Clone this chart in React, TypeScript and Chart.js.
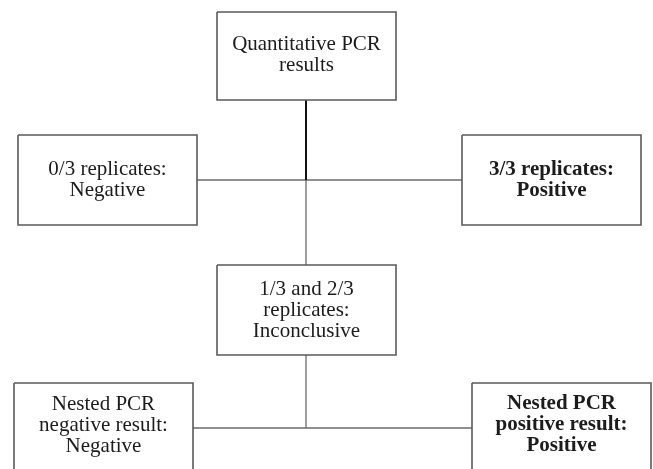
import React, { useEffect, useRef } from "react";
import { Chart, registerables } from "chart.js";

Chart.register(...registerables);

// Flowchart content (in a 653 x 469 coordinate space, y pointing down)
const boxLines: string[][] = [
  ["Quantitative PCR", "results"],
  ["0/3 replicates:", "Negative"],
  ["3/3 replicates:", "Positive"],
  ["1/3 and 2/3", "replicates:", "Inconclusive"],
  ["Nested PCR", "negative result:", "Negative"],
  ["Nested PCR", "positive result:", "Positive"],
];
const boxLeft = [217, 18, 462, 217, 14, 472];
const boxRight = [396, 197, 641, 396, 193, 651];
const boxTop = [12, 135, 135, 265, 383, 383];
const boxBottom = [100, 225, 225, 355, 480, 480];
const boxTextCenterY = [55, 180, 180, 310, 425, 425];
const boxBold = [false, false, true, false, false, true];

// connectors: [x1, y1, x2, y2]
const connectorX1 = [306, 197, 306, 306, 193];
const connectorY1 = [100, 180, 180, 355, 428];
const connectorX2 = [306, 462, 306, 306, 472];
const connectorY2 = [180, 180, 265, 428, 428];
const connectorStrong = [true, false, false, false, false];

const textPlugin = {
  id: "boxText",
  afterDatasetsDraw(chart: any) {
    const { ctx, scales } = chart;
    const xs = scales.x;
    const ys = scales.y;
    ctx.save();
    ctx.fillStyle = "#1c1c1c";
    ctx.textAlign = "center";
    ctx.textBaseline = "middle";
    const lh = 21;
    boxLines.forEach((lines, i) => {
      ctx.font = `${boxBold[i] ? "bold " : ""}21px "Liberation Serif", "Times New Roman", serif`;
      const cx = xs.getPixelForValue((boxLeft[i] + boxRight[i]) / 2);
      const cy = ys.getPixelForValue(boxTextCenterY[i]);
      const start = cy - ((lines.length - 1) * lh) / 2;
      lines.forEach((t, j) => ctx.fillText(t, cx, start + j * lh));
    });
    ctx.restore();
  },
};

export default function App() {
  const ref = useRef<HTMLCanvasElement>(null);
  useEffect(() => {
    document.body.style.margin = "0";
    const datasets: any[] = [];
    boxLines.forEach((_, i) => {
      datasets.push({
        data: [
          { x: boxLeft[i], y: boxTop[i] },
          { x: boxRight[i], y: boxTop[i] },
          { x: boxRight[i], y: boxBottom[i] },
          { x: boxLeft[i], y: boxBottom[i] },
          { x: boxLeft[i], y: boxTop[i] },
        ],
        showLine: true,
        borderColor: "#5a5a5a",
        borderWidth: 1.6,
        pointRadius: 0,
        tension: 0,
        fill: false,
      });
    });
    connectorX1.forEach((_, i) => {
      datasets.push({
        data: [
          { x: connectorX1[i], y: connectorY1[i] },
          { x: connectorX2[i], y: connectorY2[i] },
        ],
        showLine: true,
        borderColor: connectorStrong[i] ? "#111111" : "#6a6a6a",
        borderWidth: connectorStrong[i] ? 2 : 1.3,
        pointRadius: 0,
        fill: false,
      });
    });
    const chart = new Chart(ref.current!, {
      type: "scatter",
      data: { datasets },
      options: {
        animation: false,
        responsive: false,
        maintainAspectRatio: false,
        layout: { padding: 0 },
        plugins: { legend: { display: false }, tooltip: { enabled: false } },
        scales: {
          x: { type: "linear", min: 0, max: 653, display: false },
          y: { type: "linear", min: 0, max: 469, reverse: true, display: false },
        },
      },
      plugins: [textPlugin],
    });
    return () => chart.destroy();
  }, []);
  return (
    <div style={{ width: 653, height: 469, background: "#fff" }}>
      <canvas ref={ref} width={653} height={469} />
    </div>
  );
}
